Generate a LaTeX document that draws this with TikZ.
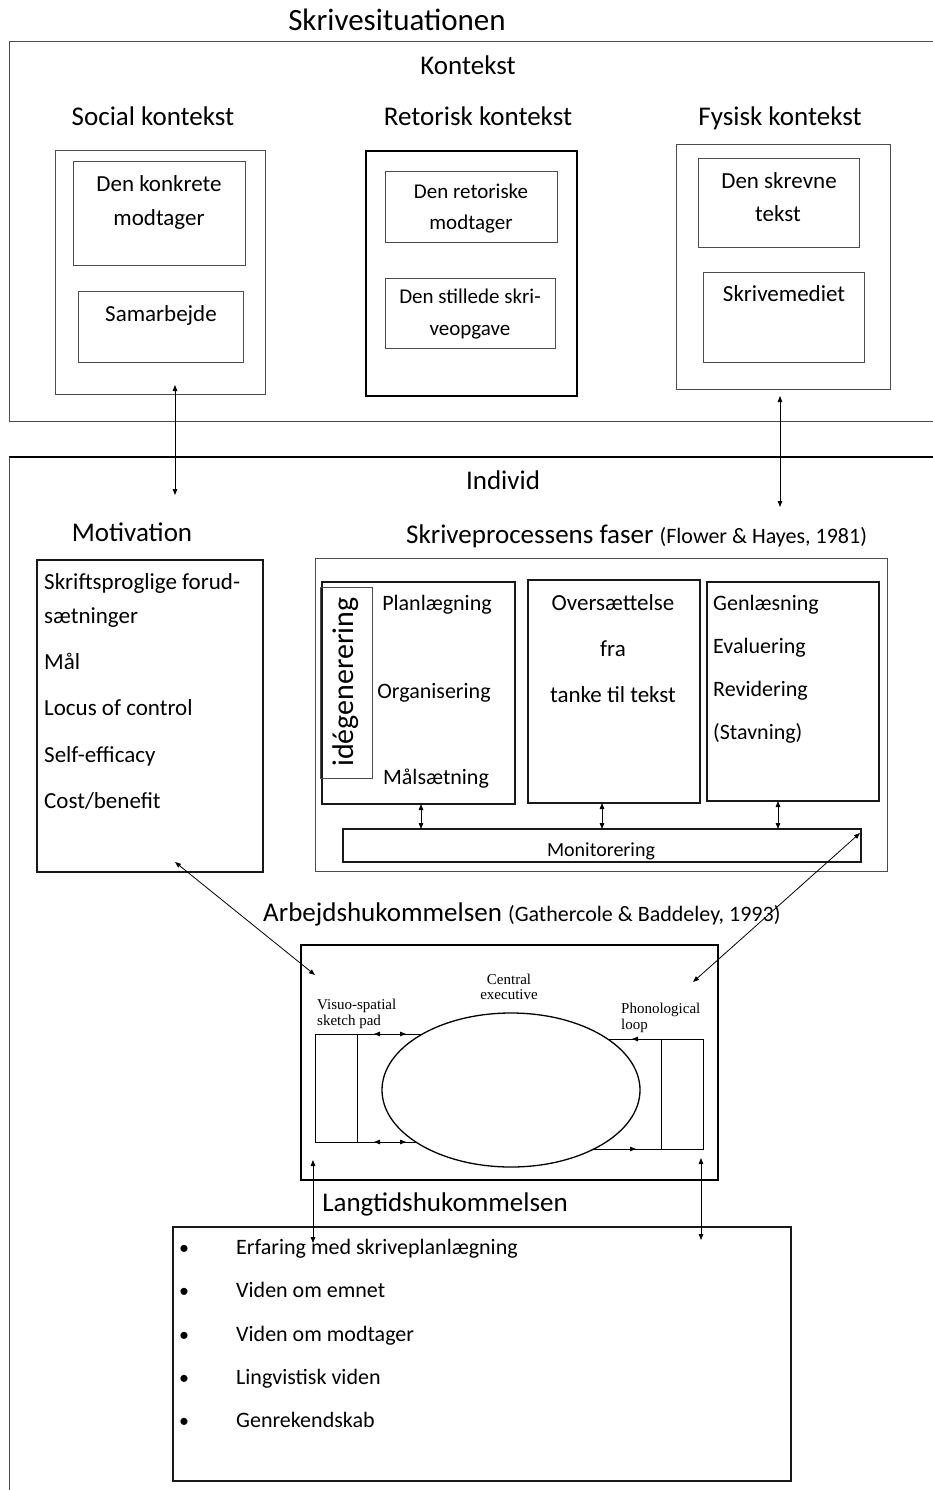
\documentclass[tikz,border=0pt]{standalone}
\usepackage{fontspec}
\setmainfont{Carlito}
\newfontfamily\wmfont{Liberation Serif}
\usetikzlibrary{arrows.meta,shapes.geometric}
\newcommand\fs[1]{\fontsize{#1}{#1}\selectfont}

\begin{document}
\begin{tikzpicture}[x=1pt,y=1pt,
  sz/.style 2 args={minimum width=#1pt, minimum height=#2pt},
  box/.style={draw=black!70, line width=0.9pt, inner sep=0pt, outer sep=0pt, anchor=north west},
  mbox/.style={draw=black!90, line width=1.3pt, inner sep=0pt, outer sep=0pt, anchor=north west},
  hbox/.style={draw=black, line width=1.8pt, inner sep=0pt, outer sep=0pt, anchor=north west},
  lab/.style={inner sep=0pt, anchor=base},
  labw/.style={inner sep=0pt, anchor=base west},
  link/.style={line width=0.8pt, {Triangle[length=6pt,width=4.5pt]}-{Triangle[length=6pt,width=4.5pt]}},
  tip/.style={line width=0.8pt, -{Triangle[length=6pt,width=4.5pt]}},
]
\useasboundingbox (0,0) rectangle (933,-1490);

% ---------- Skrivesituationen ----------
\node[lab, font=\fs{31}] (title) at (397,-31) {Skrivesituationen};
\draw[draw=black!70, line width=0.9pt] (933,-41) -- (9,-41) -- (9,-421) -- (933,-421);
\node[lab, font=\fs{27}] (kontekst) at (468,-75) {Kontekst};

\node[lab, font=\fs{27}] (hsoc) at (153,-126) {Social kontekst};
\node[lab, font=\fs{27}] (hret) at (478,-126) {Retorisk kontekst};
\node[lab, font=\fs{27}] (hfys) at (780,-126) {Fysisk kontekst};

% social context
\node[box, sz={210}{244}] (soc) at (55,-150) {};
\node[box, sz={172}{104}] (soc1) at (73,-161) {};
\node[lab, font=\fs{23}] (soc1a) at (159,-191) {Den konkrete};
\node[lab, font=\fs{23}] (soc1b) at (159,-225) {modtager};
\node[box, sz={165}{71}] (soc2) at (78,-291) {};
\node[lab, font=\fs{23}] (soc2a) at (161,-321) {Samarbejde};

% rhetorical context
\node[hbox, sz={211}{245}] (ret) at (366,-151) {};
\node[box, sz={172}{71}] (ret1) at (385,-171) {};
\node[lab, font=\fs{21}] (ret1a) at (471,-198) {Den retoriske};
\node[lab, font=\fs{21}] (ret1b) at (471,-229) {modtager};
\node[box, sz={170}{70}] (ret2) at (385,-278) {};
\node[lab, font=\fs{21}] (ret2a) at (470,-303) {Den stillede skri-};
\node[lab, font=\fs{21}] (ret2b) at (470,-335) {veopgave};

% physical context
\node[box, sz={214}{245}] (fys) at (676,-144) {};
\node[box, sz={161}{89}] (fys1) at (698,-158) {};
\node[lab, font=\fs{23}] (fys1a) at (779,-189) {Den skrevne};
\node[lab, font=\fs{23}] (fys1b) at (778,-222) {tekst};
\node[box, sz={161}{90}] (fys2) at (703,-272) {};
\node[lab, font=\fs{23}] (fys2a) at (784,-301) {Skrivemediet};

% ---------- Individ ----------
\draw[line width=1.8pt] (933,-457) -- (9,-457);
\draw[draw=black!70, line width=0.9pt] (9,-457) -- (9,-1490);
\node[lab, font=\fs{27}] (individ) at (503,-489) {Individ};

\node[lab, font=\fs{27}] (hmot) at (132,-541) {Motivation};
\node[labw] (hproc) at (406,-543) {\fs{27}Skriveprocessens faser \fs{22}(Flower \& Hayes, 1981)};

% motivation
\node[mbox, sz={226}{312}] (mot) at (37,-560) {};
\node[labw, font=\fs{23}] (mot1) at (44,-589) {Skriftsproglige forud-};
\node[labw, font=\fs{23}] (mot2) at (44,-623) {sætninger};
\node[labw, font=\fs{23}] (mot3) at (44,-669) {Mål};
\node[labw, font=\fs{23}] (mot4) at (44,-715) {Locus of control};
\node[labw, font=\fs{23}] (mot5) at (44,-762) {Self-efficacy};
\node[labw, font=\fs{23}] (mot6) at (44,-808) {Cost/benefit};

% writing process phases
\node[box, sz={572}{313}] (proc) at (315,-558) {};
\node[mbox, sz={193}{222}] (p1) at (322,-582) {};
\node[box, sz={52}{191}] (ide) at (320,-587) {};
\node[inner sep=0pt, rotate=90, font=\fs{30}] (idet) at (346,-682) {idégenerering};
\node[lab, font=\fs{22}] (p1a) at (437,-610) {Planlægning};
\node[lab, font=\fs{22}] (p1b) at (434,-698) {Organisering};
\node[lab, font=\fs{22}] (p1c) at (436,-784) {Målsætning};

\node[mbox, sz={172}{223}] (p2) at (528,-580) {};
\node[lab, font=\fs{23}] (p2a) at (613,-610) {Oversættelse};
\node[lab, font=\fs{23}] (p2b) at (613,-656) {fra};
\node[lab, font=\fs{23}] (p2c) at (613,-702) {tanke til tekst};

\node[mbox, sz={172}{219}] (p3) at (707,-582) {};
\node[labw, font=\fs{22}] (p3a) at (713,-610) {Genlæsning};
\node[labw, font=\fs{22}] (p3b) at (713,-653) {Evaluering};
\node[labw, font=\fs{22}] (p3c) at (713,-696) {Revidering};
\node[labw, font=\fs{22}] (p3d) at (713,-739) {(Stavning)};

\node[mbox, sz={518}{33}] (mon) at (343,-829) {};
\node[lab, font=\fs{20}] (mont) at (601,-856) {Monitorering};

\coordinate (x1) at (421,0);
\coordinate (x2) at (602,0);
\coordinate (x3) at (778,0);
\draw[link] (p1.south -| x1) -- (mon.north -| x1);
\draw[link] (p2.south -| x2) -- (mon.north -| x2);
\draw[link] (p3.south -| x3) -- (mon.north -| x3);

% ---------- working memory ----------
\node[labw] (hwm) at (263,-921) {\fs{27}Arbejdshukommelsen \fs{22}(Gathercole \& Baddeley, 1993)};
\node[hbox, sz={417}{235}] (wm) at (301,-945) {};
\node[ellipse, draw, line width=1.3pt, minimum width=258pt, minimum height=154pt, inner sep=0pt] (ell) at (511,-1090) {};
\node[lab, font=\wmfont\fs{15}] (ce1) at (509,-984) {Central};
\node[lab, font=\wmfont\fs{15}] (ce2) at (509,-999) {executive};
\node[labw, font=\wmfont\fs{15}] (vs1) at (317,-1009) {Visuo-spatial};
\node[labw, font=\wmfont\fs{15}] (vs2) at (317,-1025) {sketch pad};
\node[labw, font=\wmfont\fs{15}] (pl1) at (621,-1013) {Phonological};
\node[labw, font=\wmfont\fs{15}] (pl2) at (621,-1029) {loop};

\node[draw, line width=1pt, inner sep=0pt, outer sep=0pt, anchor=north west, sz={42}{108}] (lrect) at (315,-1034) {};
\node[draw, line width=1pt, inner sep=0pt, outer sep=0pt, anchor=north west, sz={42}{110}] (rrect) at (661,-1039) {};
\coordinate (le1) at (422,-1034);
\coordinate (le2) at (416,-1142);
\coordinate (re1) at (608,-1039);
\coordinate (re2) at (594,-1149);
\draw[line width=1pt] (lrect.north east) -- (le1);
\draw[line width=1pt] (lrect.south east) -- (le2);
\draw[line width=1pt] (rrect.north west) -- (re1);
\draw[line width=1pt] (rrect.south west) -- (re2);
\draw[tip] (389,-1034) -- (374,-1034);
\draw[tip] (391,-1034) -- (406,-1034);
\draw[tip] (389,-1142) -- (374,-1142);
\draw[tip] (391,-1142) -- (406,-1142);
\draw[tip] (646,-1039) -- (632,-1039);
\draw[tip] (622,-1149) -- (636,-1149);

% ---------- long-term memory ----------
\node[lab, font=\fs{27}] (hltm) at (445,-1211) {Langtidshukommelsen};
\node[mbox, sz={618}{254}] (ltm) at (173,-1227) {};
\foreach \i/\t/\y in {1/Erfaring med skriveplanlægning/1254,
                      2/Viden om emnet/1297,
                      3/Viden om modtager/1341,
                      4/Lingvistisk viden/1384,
                      5/Genrekendskab/1427} {
  \node[lab, font=\fs{20}] (b\i) at (184,-\y) {\textbullet};
  \node[labw, font=\fs{22}] (l\i) at (236,-\y) {\t};
}

% ---------- connectors ----------
\coordinate (s1) at (175,-385);
\coordinate (s2) at (175,-495);
\coordinate (f1) at (780,-396);
\coordinate (f2) at (780,-507);
\draw[link] (s1) -- (s2);
\draw[link] (f1) -- (f2);

\coordinate (m1) at (175,-862);
\coordinate (m2) at (315,-975);
\draw[link] (m1) -- (m2);
\coordinate (n1) at (860,-833);
\coordinate (n2) at (693,-982);
\draw[link] (n1) -- (n2);

\coordinate (w1) at (313,-1160);
\coordinate (w2) at (313,-1243);
\coordinate (w3) at (701,-1158);
\coordinate (w4) at (701,-1240);
\draw[link] (w1) -- (w2);
\draw[link] (w3) -- (w4);
\end{tikzpicture}
\end{document}
